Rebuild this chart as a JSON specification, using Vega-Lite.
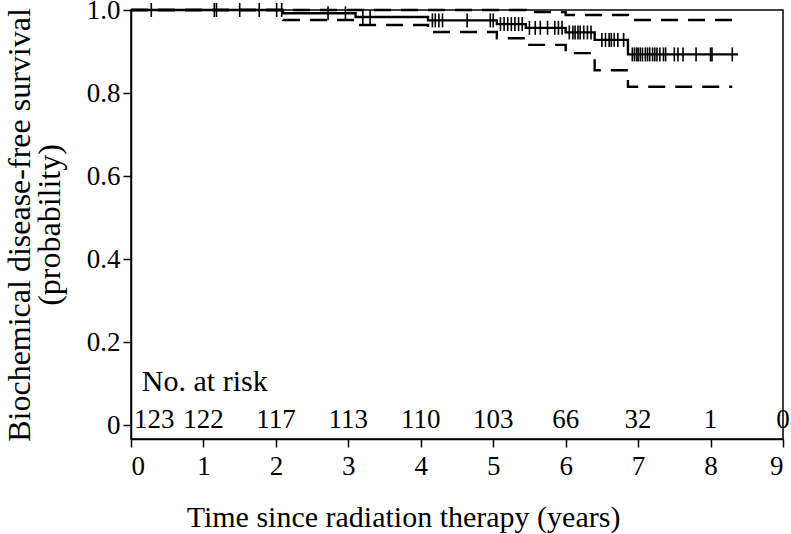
{
  "$schema": "https://vega.github.io/schema/vega-lite/v6.json",
  "width": 652,
  "height": 429,
  "autosize": {"type": "none"},
  "padding": {"left": 131, "top": 10, "right": 8, "bottom": 95},
  "background": "white",
  "config": {
    "font": "Liberation Serif",
    "view": {"stroke": "black", "strokeWidth": 1.5},
    "axis": {
      "domainColor": "black", "domainWidth": 1.5, "tickColor": "black", "tickWidth": 1.5,
      "tickSize": 8, "grid": false, "labelColor": "black", "titleColor": "black",
      "labelFont": "Liberation Serif", "titleFont": "Liberation Serif",
      "labelFontSize": 27, "titleFontSize": 30, "titleFontWeight": "normal"
    }
  },
  "datasets": {
    "curves": [
      {"series": "Estimate", "kind": "estimate", "t": 0, "s": 1.0},
      {"series": "Estimate", "kind": "estimate", "t": 2.1, "s": 0.992},
      {"series": "Estimate", "kind": "estimate", "t": 3.1, "s": 0.983},
      {"series": "Estimate", "kind": "estimate", "t": 4.1, "s": 0.975},
      {"series": "Estimate", "kind": "estimate", "t": 5.05, "s": 0.966},
      {"series": "Estimate", "kind": "estimate", "t": 5.45, "s": 0.957},
      {"series": "Estimate", "kind": "estimate", "t": 6.0, "s": 0.946},
      {"series": "Estimate", "kind": "estimate", "t": 6.4, "s": 0.928},
      {"series": "Estimate", "kind": "estimate", "t": 6.86, "s": 0.893},
      {"series": "Estimate", "kind": "estimate", "t": 8.38, "s": 0.893},
      {"series": "Upper", "kind": "bound", "t": 0, "s": 1.0},
      {"series": "Upper", "kind": "bound", "t": 5.45, "s": 0.995},
      {"series": "Upper", "kind": "bound", "t": 6.0, "s": 0.988},
      {"series": "Upper", "kind": "bound", "t": 6.86, "s": 0.976},
      {"series": "Upper", "kind": "bound", "t": 8.3, "s": 0.976},
      {"series": "Lower", "kind": "bound", "t": 0, "s": 1.0},
      {"series": "Lower", "kind": "bound", "t": 2.1, "s": 0.976},
      {"series": "Lower", "kind": "bound", "t": 3.1, "s": 0.964},
      {"series": "Lower", "kind": "bound", "t": 4.1, "s": 0.947},
      {"series": "Lower", "kind": "bound", "t": 5.05, "s": 0.932},
      {"series": "Lower", "kind": "bound", "t": 5.45, "s": 0.916},
      {"series": "Lower", "kind": "bound", "t": 6.0, "s": 0.896},
      {"series": "Lower", "kind": "bound", "t": 6.4, "s": 0.855},
      {"series": "Lower", "kind": "bound", "t": 6.86, "s": 0.815},
      {"series": "Lower", "kind": "bound", "t": 8.3, "s": 0.815}
    ],
    "censor": [
      {"t": 0.28, "s": 1.0}, {"t": 1.15, "s": 1.0}, {"t": 1.18, "s": 1.0}, {"t": 1.5, "s": 1.0},
      {"t": 1.77, "s": 1.0}, {"t": 2.01, "s": 1.0}, {"t": 2.08, "s": 1.0},
      {"t": 2.72, "s": 0.992}, {"t": 2.96, "s": 0.992},
      {"t": 3.2, "s": 0.983}, {"t": 3.3, "s": 0.983},
      {"t": 4.16, "s": 0.975}, {"t": 4.2, "s": 0.975}, {"t": 4.25, "s": 0.975}, {"t": 4.3, "s": 0.975},
      {"t": 4.64, "s": 0.975}, {"t": 4.96, "s": 0.975}, {"t": 5.0, "s": 0.975},
      {"t": 5.1, "s": 0.966}, {"t": 5.15, "s": 0.966}, {"t": 5.2, "s": 0.966}, {"t": 5.25, "s": 0.966},
      {"t": 5.3, "s": 0.966}, {"t": 5.35, "s": 0.966}, {"t": 5.4, "s": 0.966},
      {"t": 5.5, "s": 0.957}, {"t": 5.58, "s": 0.957}, {"t": 5.65, "s": 0.957}, {"t": 5.75, "s": 0.957},
      {"t": 5.85, "s": 0.957}, {"t": 5.9, "s": 0.957}, {"t": 5.95, "s": 0.957},
      {"t": 6.05, "s": 0.946}, {"t": 6.1, "s": 0.946}, {"t": 6.13, "s": 0.946}, {"t": 6.17, "s": 0.946},
      {"t": 6.2, "s": 0.946}, {"t": 6.25, "s": 0.946}, {"t": 6.3, "s": 0.946}, {"t": 6.35, "s": 0.946},
      {"t": 6.5, "s": 0.928}, {"t": 6.55, "s": 0.928}, {"t": 6.6, "s": 0.928}, {"t": 6.63, "s": 0.928},
      {"t": 6.67, "s": 0.928}, {"t": 6.72, "s": 0.928}, {"t": 6.8, "s": 0.928},
      {"t": 6.92, "s": 0.893}, {"t": 6.95, "s": 0.893}, {"t": 6.98, "s": 0.893}, {"t": 7.0, "s": 0.893},
      {"t": 7.03, "s": 0.893}, {"t": 7.06, "s": 0.893}, {"t": 7.1, "s": 0.893}, {"t": 7.13, "s": 0.893},
      {"t": 7.16, "s": 0.893}, {"t": 7.2, "s": 0.893}, {"t": 7.23, "s": 0.893}, {"t": 7.26, "s": 0.893},
      {"t": 7.3, "s": 0.893}, {"t": 7.35, "s": 0.893}, {"t": 7.38, "s": 0.893}, {"t": 7.5, "s": 0.893},
      {"t": 7.55, "s": 0.893}, {"t": 7.62, "s": 0.893}, {"t": 7.8, "s": 0.893}, {"t": 8.0, "s": 0.893},
      {"t": 8.02, "s": 0.893}, {"t": 8.3, "s": 0.893}
    ],
    "risk": [
      {"t": 0, "n": "123"}, {"t": 1, "n": "122"}, {"t": 2, "n": "117"}, {"t": 3, "n": "113"},
      {"t": 4, "n": "110"}, {"t": 5, "n": "103"}, {"t": 6, "n": "66"}, {"t": 7, "n": "32"},
      {"t": 8, "n": "1"}, {"t": 9, "n": "0"}
    ]
  },
  "layer": [
    {
      "data": {"name": "curves"},
      "mark": {"type": "line", "interpolate": "step-after", "color": "black", "strokeWidth": 2.4},
      "encoding": {
        "x": {
          "field": "t", "type": "quantitative",
          "scale": {"domain": [0, 9], "nice": false, "zero": false},
          "axis": {
            "values": [0, 1, 2, 3, 4, 5, 6, 7, 8, 9], "format": "d", "labelPadding": 6,
            "title": "Time since radiation therapy (years)", "titlePadding": 23,
            "titleX": 272, "titleAlign": "center"
          }
        },
        "y": {
          "field": "s", "type": "quantitative",
          "scale": {"domain": [-0.0337, 1], "nice": false, "zero": false},
          "axis": {
            "values": [0, 0.2, 0.4, 0.6, 0.8, 1.0],
            "labelExpr": "datum.value == 0 ? '0' : format(datum.value, '.1f')",
            "labelPadding": 3,
            "title": ["Biochemical disease-free survival", "(probability)"],
            "titleFontSize": 32,
            "titleLineHeight": 30, "titlePadding": 20
          }
        },
        "detail": {"field": "series", "type": "nominal"},
        "strokeDash": {
          "field": "kind", "type": "nominal",
          "scale": {"domain": ["estimate", "bound"], "range": [[1, 0], [17, 10]]},
          "legend": null
        }
      }
    },
    {
      "data": {"name": "censor"},
      "mark": {"type": "tick", "orient": "vertical", "size": 14, "thickness": 1.6, "color": "black", "opacity": 1},
      "encoding": {
        "x": {"field": "t", "type": "quantitative"},
        "y": {"field": "s", "type": "quantitative"}
      }
    },
    {
      "data": {"name": "risk"},
      "transform": [{"filter": "datum.t > 0"}],
      "mark": {"type": "text", "align": "center", "baseline": "alphabetic", "dy": 3, "fontSize": 27, "font": "Liberation Serif", "fill": "black"},
      "encoding": {
        "x": {"field": "t", "type": "quantitative"},
        "y": {"datum": 0, "type": "quantitative"},
        "text": {"field": "n", "type": "nominal"}
      }
    },
    {
      "data": {"name": "risk"},
      "transform": [{"filter": "datum.t == 0"}],
      "mark": {"type": "text", "align": "left", "baseline": "alphabetic", "dx": 3, "dy": 3, "fontSize": 27, "font": "Liberation Serif", "fill": "black"},
      "encoding": {
        "x": {"field": "t", "type": "quantitative"},
        "y": {"datum": 0, "type": "quantitative"},
        "text": {"field": "n", "type": "nominal"}
      }
    },
    {
      "data": {"values": [{"label": "No. at risk"}]},
      "mark": {"type": "text", "align": "left", "baseline": "alphabetic", "fontSize": 30, "font": "Liberation Serif", "fill": "black"},
      "encoding": {
        "x": {"datum": 0.15, "type": "quantitative"},
        "y": {"datum": 0.082, "type": "quantitative"},
        "text": {"field": "label", "type": "nominal"}
      }
    }
  ]
}
